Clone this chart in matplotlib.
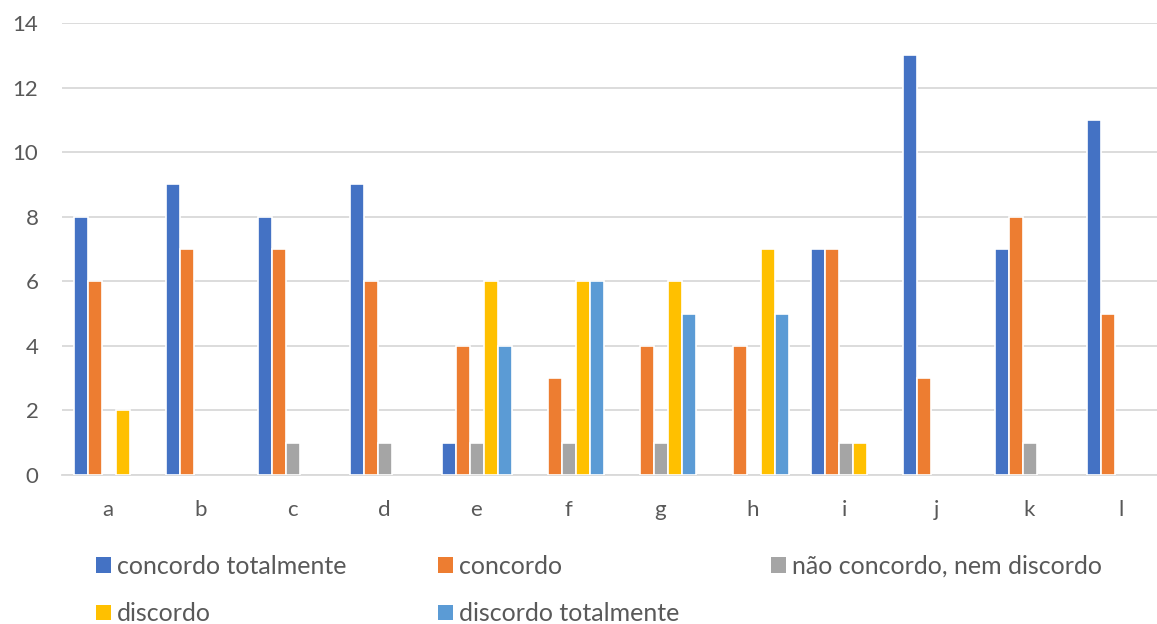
import numpy as np
import matplotlib
matplotlib.use('Agg')
import matplotlib.pyplot as plt
from matplotlib.patches import Patch

plt.rcParams['font.family'] = ['Lato', 'DejaVu Sans']

categorias = ['a', 'b', 'c', 'd', 'e', 'f', 'g', 'h', 'i', 'j', 'k', 'l']
series = ['concordo totalmente', 'concordo', 'não concordo, nem discordo',
          'discordo', 'discordo totalmente']

concordo_totalmente = [8, 9, 8, 9, 1, 0, 0, 0, 7, 13, 7, 11]
concordo = [6, 7, 7, 6, 4, 3, 4, 4, 7, 3, 8, 5]
nem_nem = [0, 0, 1, 1, 1, 1, 1, 0, 1, 0, 1, 0]
discordo = [2, 0, 0, 0, 6, 6, 6, 7, 1, 0, 0, 0]
discordo_totalmente = [0, 0, 0, 0, 4, 6, 5, 5, 0, 0, 0, 0]

valores = [concordo_totalmente, concordo, nem_nem, discordo, discordo_totalmente]
cores = ['#4472C4', '#ED7D31', '#A5A5A5', '#FFC000', '#5B9BD5']

fig = plt.figure(figsize=(11.57, 6.24), dpi=100)
# plot area runs a little past the right edge of the image
ax = fig.add_axes([62 / 1157, 1 - 475 / 624, 1105 / 1157, 452 / 624])

x = np.arange(len(categorias))
w = 0.152
for k, (vals, cor, nome) in enumerate(zip(valores, cores, series)):
    b = ax.bar(x + (k - 2) * w + 0.01, vals, width=w, color=cor,
               edgecolor='white', linewidth=1.2, label=nome, zorder=3)
    # empty bars would leave a white notch on the axis line
    for p, v in zip(b.patches, vals):
        if v == 0:
            p.set_visible(False)

ax.set_xlim(-0.5, len(categorias) - 0.5)
ax.set_ylim(0, 14)
ax.set_yticks(range(0, 15, 2))
ax.set_xticks(x)
ax.set_xticklabels(categorias)
ax.yaxis.grid(True, color='#D9D9D9', linewidth=1.3, zorder=0)
ax.set_axisbelow(True)
for s in ['top', 'right', 'left']:
    ax.spines[s].set_visible(False)
ax.spines['bottom'].set_color('#D9D9D9')
ax.spines['bottom'].set_linewidth(1.3)
ax.tick_params(axis='both', length=0, labelsize=16, labelcolor='#595959')
ax.tick_params(axis='x', pad=18)
ax.tick_params(axis='y', pad=17)

# legend filled row by row, three per row
ordem = [0, 3, 1, 4, 2]
proxies = [Patch(facecolor=cores[i], edgecolor='none') for i in ordem]
leg = fig.legend(proxies, [series[i] for i in ordem],
                 ncol=3, loc='upper left', bbox_to_anchor=(96 / 1157, 1 - 555 / 624),
                 frameon=False, fontsize=18, labelcolor='#595959',
                 handlelength=0.6, handleheight=0.6, handletextpad=0.25,
                 columnspacing=3.65, labelspacing=0.97, borderpad=0, borderaxespad=0)

fig.savefig('out.png', dpi=100)
